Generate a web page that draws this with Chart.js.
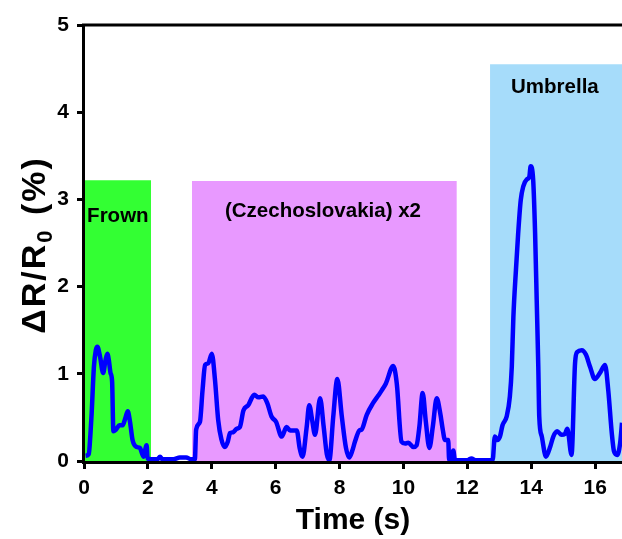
<!DOCTYPE html>
<html>
<head>
<meta charset="utf-8">
<script src="https://cdn.jsdelivr.net/npm/chart.js@4/dist/chart.umd.min.js"></script>
<style>
  html, body { margin: 0; padding: 0; background: #fff; overflow: hidden; }
  #wrap { width: 622px; height: 539px; position: relative; }
  canvas { display: block; }
</style>
</head>
<body>
<div id="wrap"><canvas id="c" width="622" height="539"></canvas></div>
<script>
// ---- data ----
const timeS = [0.05,0.15,0.20,0.24,0.31,0.37,0.42,0.50,0.60,0.67,0.73,0.78,0.83,0.88,0.92,1.00,1.11,1.21,1.30,1.37,1.44,1.52,1.65,1.75,1.86,1.96,1.99,2.10,2.30,2.38,2.45,2.80,3.00,3.20,3.35,3.47,
  3.51,3.63,3.71,3.79,3.89,4.00,4.10,4.20,4.30,4.41,4.50,4.57,4.67,4.78,4.88,4.99,5.14,5.33,5.46,5.61,5.74,5.87,6.01,6.19,6.34,6.45,6.66,6.75,6.84,6.97,
  7.05,7.15,7.23,7.39,7.50,7.60,7.68,7.80,7.93,8.07,8.20,8.30,8.40,8.48,8.62,8.69,8.85,9.04,9.21,9.32,9.45,9.68,9.79,9.94,10.05,10.15,10.31,10.41,10.50,
  10.60,10.70,10.81,10.92,11.04,11.15,11.23,11.30,11.40,11.43,11.52,11.56,11.61,12.00,12.13,12.25,12.79,12.86,12.94,13.02,13.10,13.23,13.33,13.39,13.44,
  13.52,13.59,13.67,13.75,13.86,13.94,13.98,14.06,14.12,14.17,14.22,14.25,14.33,14.46,14.59,14.69,14.81,14.95,15.05,15.13,15.26,15.37,15.44,15.58,15.71,
  15.84,15.99,16.15,16.31,16.41,16.52,16.59,16.69,16.78,16.84,16.90];
const deltaR = [0.06,0.08,0.30,0.55,1.08,1.27,1.31,1.20,1.01,1.15,1.23,1.15,1.01,0.91,0.34,0.36,0.41,0.41,0.50,0.57,0.45,0.24,0.16,0.15,0.05,0.18,0.03,0.02,0.02,0.05,0.02,0.02,0.04,0.04,0.02,0.02,
  0.36,0.45,0.81,1.10,1.12,1.23,0.93,0.47,0.25,0.16,0.22,0.32,0.33,0.37,0.39,0.58,0.64,0.76,0.73,0.74,0.66,0.51,0.45,0.28,0.39,0.35,0.35,0.15,0.05,0.39,
  0.64,0.45,0.30,0.72,0.40,0.08,0.01,0.50,0.94,0.51,0.15,0.04,0.12,0.22,0.35,0.36,0.53,0.66,0.75,0.81,0.89,1.09,0.89,0.22,0.20,0.21,0.16,0.18,0.40,
  0.78,0.45,0.15,0.40,0.72,0.55,0.36,0.24,0.24,0.01,0.02,0.12,0.01,0.01,0.03,0.01,0.01,0.28,0.24,0.28,0.41,0.51,0.74,1.08,1.65,
  2.19,2.61,2.99,3.15,3.23,3.26,3.38,3.22,2.61,1.85,1.08,0.51,0.28,0.05,0.16,0.28,0.34,0.30,0.31,0.37,0.07,1.12,1.25,1.27,1.22,
  1.08,0.94,1.01,1.10,0.81,0.32,0.11,0.07,0.20,0.44,0.70];

// shaded stimulus windows
const regionLabels = ["Frown", "(Czechoslovakia) x2", "Umbrella"];
const regionStart  = [0.0, 3.38, 12.71];
const regionEnd    = [2.10, 11.67, 17.2];
const regionTop    = [3.22, 3.21, 4.55];
const regionColors = ["rgb(51,255,51)", "rgb(232,153,255)", "rgb(166,220,250)"];
const labelX = [1.06, 7.48, 14.74];
const labelY = [2.81, 2.86, 4.29];

const xTicks = [0,2,4,6,8,10,12,14,16];
const yTicks = [0,1,2,3,4,5];
const X_MAX = 16.84;

const FONT = "'Liberation Sans', Arial, Helvetica, sans-serif";

const regionDatasets = regionLabels.map((name, i) => ({
  label: name,
  data: [{x: regionStart[i], y: regionTop[i]}, {x: regionEnd[i], y: regionTop[i]}],
  backgroundColor: regionColors[i],
  borderWidth: 0,
  pointRadius: 0,
  fill: 'origin',
  tension: 0,
  order: 2
}));

const signal = timeS.map((t, i) => ({x: t, y: deltaR[i]}));

const labelPlugin = {
  id: 'extras',
  beforeDatasetDraw(chart, args) {
    if (args.index !== 0) return;
    // axis frame drawn above the shaded windows but beneath the signal
    const ctx = chart.ctx, a = chart.chartArea;
    ctx.save();
    ctx.strokeStyle = '#000';
    ctx.lineWidth = 3;
    ctx.beginPath();
    ctx.moveTo(a.left - 0.5, a.top - 1.5);
    ctx.lineTo(a.left - 0.5, a.bottom + 3);
    ctx.moveTo(a.left - 2, a.bottom + 1.5);
    ctx.lineTo(chart.width, a.bottom + 1.5);
    ctx.moveTo(a.left - 2, a.top);
    ctx.lineTo(chart.width, a.top);
    ctx.stroke();
    ctx.restore();
  },
  afterDatasetsDraw(chart) {
    const ctx = chart.ctx, xs = chart.scales.x, ys = chart.scales.y;
    ctx.save();
    ctx.fillStyle = '#000';
    ctx.font = 'bold 20.5px ' + FONT;
    ctx.textAlign = 'center';
    ctx.textBaseline = 'middle';
    regionLabels.forEach((name, i) => {
      ctx.fillText(name, xs.getPixelForValue(labelX[i]), ys.getPixelForValue(labelY[i]));
    });
    ctx.restore();
  },
  afterDraw(chart) {
    const ctx = chart.ctx;
    ctx.save();
    // y axis title with subscript
    const big = 'bold 34px ' + FONT, small = 'bold 22px ' + FONT;
    ctx.fillStyle = '#000';
    if ('letterSpacing' in ctx) ctx.letterSpacing = '2px';
    ctx.font = big;
    const p1 = 'ΔR/R', p3 = ' (%)';
    const w1 = ctx.measureText(p1).width, w3 = ctx.measureText(p3).width;
    ctx.font = small;
    const w2 = ctx.measureText('0').width + 2;
    const total = w1 + w2 + w3;
    ctx.translate(33, 245);
    ctx.rotate(-Math.PI / 2);
    ctx.textBaseline = 'alphabetic';
    ctx.textAlign = 'left';
    let x0 = -total / 2;
    const base = 12;
    ctx.font = big;  ctx.fillText(p1, x0, base); x0 += w1;
    ctx.font = small; ctx.fillText('0', x0, base + 7); x0 += w2;
    ctx.font = big;  ctx.fillText(p3, x0, base);
    ctx.restore();
  }
};

new Chart(document.getElementById('c'), {
  type: 'line',
  data: {
    datasets: [
      {
        label: 'ΔR/R0',
        data: signal,
        borderColor: 'rgb(0,0,255)',
        borderWidth: 4.5,
        pointRadius: 0,
        fill: false,
        cubicInterpolationMode: 'monotone',
        order: 0
      },
      ...regionDatasets
    ]
  },
  options: {
    responsive: false,
    animation: false,
    devicePixelRatio: 1,
    layout: { padding: { top: 25, right: 0, left: 0, bottom: 0 } },
    plugins: { legend: { display: false }, tooltip: { enabled: false } },
    scales: {
      x: {
        type: 'linear',
        min: 0, max: X_MAX,
        afterFit(s) { s.height = 78; },
        afterBuildTicks(s) { s.ticks = xTicks.map(v => ({value: v})); },
        ticks: { stepSize: 2, includeBounds: false, color: '#000', padding: 7,
                 font: { family: FONT, size: 21, weight: 'bold' } },
        grid: { drawOnChartArea: false, drawTicks: true, tickLength: 8, tickWidth: 3, tickColor: '#000' },
        border: { display: false },
        title: { display: true, text: 'Time (s)', color: '#000', padding: { top: 0, bottom: 0 },
                 font: { family: FONT, size: 30, weight: 'bold' } }
      },
      y: {
        type: 'linear',
        min: 0, max: 5,
        afterFit(s) { s.width = 84; },
        afterBuildTicks(s) { s.ticks = yTicks.map(v => ({value: v})); },
        ticks: { stepSize: 1, color: '#000', padding: 8,
                 font: { family: FONT, size: 21, weight: 'bold' } },
        grid: { drawOnChartArea: false, drawTicks: true, tickLength: 7, tickWidth: 3, tickColor: '#000' },
        border: { display: false }
      }
    }
  },
  plugins: [labelPlugin]
});
</script>
</body>
</html>
